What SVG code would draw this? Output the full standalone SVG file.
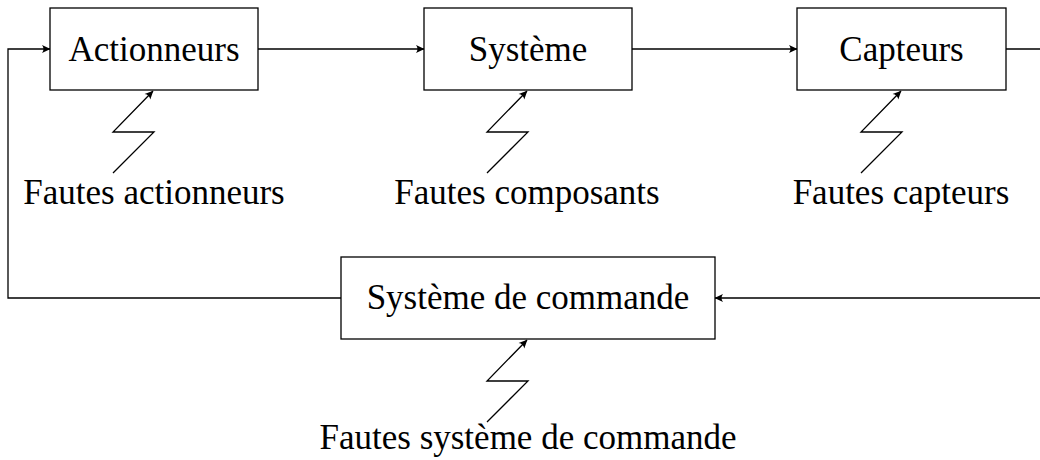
<svg xmlns="http://www.w3.org/2000/svg" width="1040" height="460" viewBox="0 0 1040 460">
<style>
rect.box{fill:#fff;stroke:#000;stroke-width:1.3}
.wire{fill:none;stroke:#000;stroke-width:1.3}
text{font-family:"Liberation Serif","DejaVu Serif",serif;font-size:35px;fill:#000;text-anchor:middle}
</style>
<defs>
<marker id="arr" markerUnits="userSpaceOnUse" markerWidth="12" markerHeight="10" viewBox="-9 -5 10 10" refX="0" refY="0" orient="auto">
<path d="M0.5,0 L-8,-4 Q-5,0 -8,4 Z" fill="#000"/>
</marker>
</defs>
<g id="connectors">
<path class="wire" d="M341,298 H8 V49 H50" marker-end="url(#arr)"/>
<path class="wire" d="M258,49 H424" marker-end="url(#arr)"/>
<path class="wire" d="M632,49 H797" marker-end="url(#arr)"/>
<path class="wire" d="M1006,49 H1055 V298 H715" marker-end="url(#arr)"/>
<path class="wire" d="M113,173 L154,132 L113,132 L153,91" marker-end="url(#arr)"/>
<path class="wire" d="M487,173 L528,132 L487,132 L527,91" marker-end="url(#arr)"/>
<path class="wire" d="M861,173 L902,132 L861,132 L901,91" marker-end="url(#arr)"/>
<path class="wire" d="M487,422 L528,381 L487,381 L527,340" marker-end="url(#arr)"/>
</g>
<g id="actionneurs">
<rect class="box" x="50" y="8" width="208" height="82"/>
<text x="154" y="61">Actionneurs</text>
</g>
<g id="systeme">
<rect class="box" x="424" y="8" width="208" height="82"/>
<text x="528" y="61">Système</text>
</g>
<g id="capteurs">
<rect class="box" x="797" y="8" width="209" height="82"/>
<text x="901.5" y="61">Capteurs</text>
</g>
<g id="commande">
<rect class="box" x="341" y="257" width="374" height="82"/>
<text x="528" y="309">Système de commande</text>
</g>
<g id="faute-actionneurs"><text x="154" y="204">Fautes actionneurs</text></g>
<g id="faute-composants"><text x="527" y="204">Fautes composants</text></g>
<g id="faute-capteurs"><text x="901" y="204">Fautes capteurs</text></g>
<g id="faute-commande"><text x="528" y="449">Fautes système de commande</text></g>
</svg>
